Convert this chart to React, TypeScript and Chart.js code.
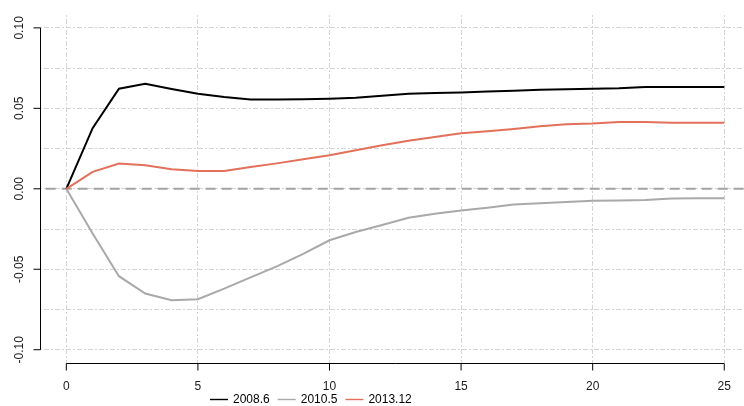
import React, { useEffect, useRef } from "react";
import { Chart, registerables } from "chart.js";

Chart.register(...registerables);

// Impulse response horizon (periods)
const horizon = [
  0, 1, 2, 3, 4, 5, 6, 7, 8, 9, 10, 11, 12, 13, 14, 15, 16, 17, 18, 19, 20, 21, 22, 23, 24, 25,
];

// Responses at three sample dates
const resp2008_6 = [
  0, 0.0377, 0.0622, 0.0653, 0.062, 0.059, 0.057, 0.0555, 0.0555, 0.0556, 0.056, 0.0566, 0.0578,
  0.059, 0.0596, 0.0599, 0.0605, 0.061, 0.0616, 0.0618, 0.0622, 0.0625, 0.0632, 0.0632, 0.0632, 0.0632,
];
const resp2010_5 = [
  0, -0.0278, -0.0543, -0.0651, -0.0692, -0.0686, -0.062, -0.055, -0.0482, -0.0405, -0.032, -0.0268,
  -0.0225, -0.018, -0.0155, -0.0135, -0.0118, -0.0098, -0.009, -0.0082, -0.0075, -0.0073, -0.007,
  -0.006, -0.0058, -0.0058,
];
const resp2013_12 = [
  0, 0.0105, 0.0157, 0.0146, 0.0122, 0.011, 0.011, 0.0135, 0.0158, 0.0184, 0.0209, 0.024, 0.027,
  0.0298, 0.0322, 0.0345, 0.0358, 0.0372, 0.0388, 0.0401, 0.0406, 0.0415, 0.0415, 0.041, 0.041, 0.041,
];

const seriesLabels = ["2008.6", "2010.5", "2013.12"];
const seriesColors = ["#000000", "#a9a9a9", "#e2705a"];

const xTickValues = [0, 5, 10, 15, 20, 25];
const xTickLabels = ["0", "5", "10", "15", "20", "25"];
const yTickValues = [-0.1, -0.05, 0, 0.05, 0.1];
const yTickLabels = ["-0.10", "-0.05", "0.00", "0.05", "0.10"];
const yGridValues = [-0.1, -0.075, -0.05, -0.025, 0, 0.025, 0.05, 0.075, 0.1];

const FONT = '12px "Liberation Sans", Arial, sans-serif';

// Base-graphics style axes: detached axis lines spanning the tick range,
// outward tick marks, rotated y labels and a horizontal legend underneath.
const baseAxesPlugin = {
  id: "baseAxes",
  afterDraw(chart: any) {
    const { ctx, chartArea } = chart;
    const xs = chart.scales.x;
    const ys = chart.scales.y;
    const tick = 7;
    ctx.save();
    ctx.strokeStyle = "#000";
    ctx.lineWidth = 1;
    ctx.fillStyle = "#1a1a1a";
    ctx.font = FONT;

    // y axis
    const ax = Math.round(chartArea.left) + 0.5;
    const yTop = ys.getPixelForValue(yTickValues[yTickValues.length - 1]);
    const yBot = ys.getPixelForValue(yTickValues[0]);
    ctx.beginPath();
    ctx.moveTo(ax, yTop);
    ctx.lineTo(ax, yBot);
    yTickValues.forEach((v) => {
      const py = ys.getPixelForValue(v);
      ctx.moveTo(ax - tick, py);
      ctx.lineTo(ax, py);
    });
    ctx.stroke();
    yTickValues.forEach((v, i) => {
      const py = ys.getPixelForValue(v);
      ctx.save();
      ctx.translate(ax - 21, py);
      ctx.rotate(-Math.PI / 2);
      ctx.textAlign = "center";
      ctx.textBaseline = "middle";
      ctx.fillText(yTickLabels[i], 0, 0);
      ctx.restore();
    });

    // x axis
    const ay = Math.round(chartArea.bottom) + 0.5;
    const xL = xs.getPixelForValue(xTickValues[0]);
    const xR = xs.getPixelForValue(xTickValues[xTickValues.length - 1]);
    ctx.beginPath();
    ctx.moveTo(xL, ay);
    ctx.lineTo(xR, ay);
    xTickValues.forEach((v) => {
      const px = xs.getPixelForValue(v);
      ctx.moveTo(px, ay);
      ctx.lineTo(px, ay + tick);
    });
    ctx.stroke();
    ctx.textAlign = "center";
    ctx.textBaseline = "middle";
    xTickValues.forEach((v, i) => {
      ctx.fillText(xTickLabels[i], xs.getPixelForValue(v), ay + 23);
    });

    // legend
    const ly = 399.5;
    let lx = 210;
    ctx.textAlign = "left";
    ctx.fillStyle = "#000";
    seriesLabels.forEach((label, i) => {
      ctx.strokeStyle = seriesColors[i];
      ctx.lineWidth = 1.4;
      ctx.beginPath();
      ctx.moveTo(lx, ly);
      ctx.lineTo(lx + 18, ly);
      ctx.stroke();
      lx += 23;
      ctx.fillText(label, lx, ly);
      lx += ctx.measureText(label).width + 8;
    });
    ctx.restore();
  },
};

export default function App() {
  const canvasRef = useRef<HTMLCanvasElement | null>(null);

  useEffect(() => {
    document.body.style.margin = "0";
    const canvas = canvasRef.current;
    if (!canvas) return;

    const toPoints = (ys: number[]) => horizon.map((x, i) => ({ x, y: ys[i] }));
    const allSeries = [resp2008_6, resp2010_5, resp2013_12];

    const chart = new Chart(canvas, {
      type: "line",
      data: {
        datasets: [
          ...allSeries.map((ys, i) => ({
            label: seriesLabels[i],
            data: toPoints(ys),
            borderColor: seriesColors[i],
            backgroundColor: seriesColors[i],
            borderWidth: 2,
            pointRadius: 0,
            tension: 0,
            fill: false,
            order: 3 - i,
          })),
          {
            label: "zero",
            data: [
              { x: -2, y: 0 },
              { x: 27, y: 0 },
            ],
            borderColor: "#a3a3a3",
            borderWidth: 2,
            borderDash: [10, 6],
            pointRadius: 0,
            fill: false,
            order: 10,
          },
        ],
      },
      options: {
        animation: false,
        responsive: false,
        devicePixelRatio: 1,
        layout: { autoPadding: false, padding: { left: 40, right: 0, top: 15, bottom: 43.4 } },
        plugins: { legend: { display: false }, tooltip: { enabled: false } },
        scales: {
          x: {
            type: "linear",
            min: -1,
            max: 25.75,
            afterBuildTicks: (s: any) => {
              s.ticks = xTickValues.map((value) => ({ value }));
            },
            ticks: { display: false },
            grid: { color: "#d4d4d4", lineWidth: 1, drawTicks: false },
            border: { display: false, dash: [2, 2, 5, 2] },
          },
          y: {
            type: "linear",
            min: -0.108,
            max: 0.108,
            afterBuildTicks: (s: any) => {
              s.ticks = yGridValues.map((value) => ({ value }));
            },
            ticks: { display: false },
            grid: { color: "#d4d4d4", lineWidth: 1, drawTicks: false },
            border: { display: false, dash: [2, 2, 5, 2] },
          },
        },
      },
      plugins: [baseAxesPlugin],
    });

    return () => chart.destroy();
  }, []);

  return (
    <canvas
      ref={canvasRef}
      width={744}
      height={406}
      style={{ display: "block", width: 744, height: 406 }}
    />
  );
}
